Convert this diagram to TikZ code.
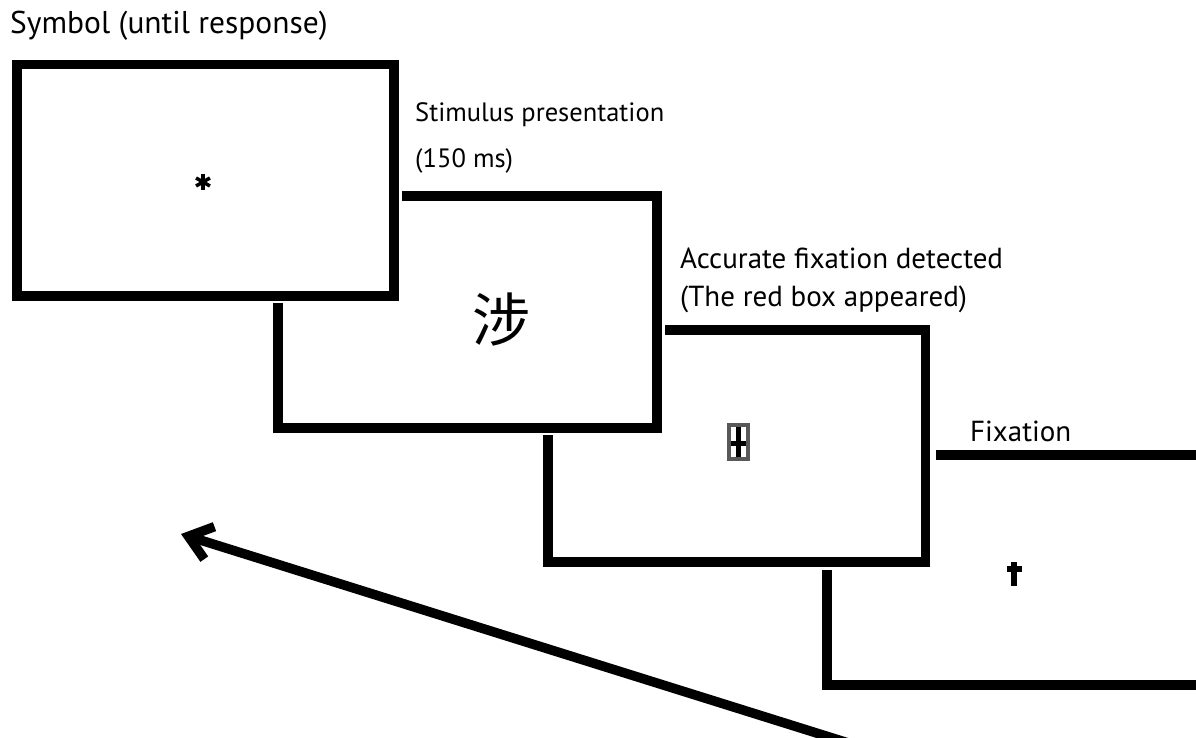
\documentclass[tikz,border=0pt]{standalone}
\usepackage{fontspec}
\setmainfont{PT Sans}
\newfontfamily\cjkfont{Noto Sans CJK SC}
\usetikzlibrary{arrows.meta}
\begin{document}
\begin{tikzpicture}[x=1pt,y=-1pt,
  frame/.style={line width=9.5pt,line join=miter,line cap=butt},
  lbl/.style={anchor=base west,inner sep=0pt},
  fa/.style={font=\fontsize{31.5}{36}\selectfont},
  fb/.style={font=\fontsize{26.5}{30}\selectfont},
  fc/.style={font=\fontsize{29}{34}\selectfont},
  bigarrow/.style={line width=9.5pt,-{Straight Barb[length=22pt,width=34pt,line width=9.5pt]}}]
\useasboundingbox (0,0) rectangle (1196,738);
\fill[white] (0,0) rectangle (1196,738);
% labels
\node[lbl,fa] (t1) at (10,34) {Symbol (until response)};
\node[lbl,fb] (t2) at (415,122) {Stimulus presentation};
\node[lbl,fb] (t3) at (415,168) {(150 ms)};
\node[lbl,fc] (t4) at (680,268) {Accurate fixation detected};
\node[lbl,fc] (t5) at (680,306) {(The red box appeared)};
\node[lbl,fc] (t6) at (970,441) {Fixation};
% screen 1
\draw[frame] (17,64.5) rectangle (394,296);
% screen 2
\draw[frame] (402,196) -- (657,196) -- (657,428) -- (278,428) -- (278,303);
% screen 3
\draw[frame] (665,330) -- (925.5,330) -- (925.5,562) -- (548,562) -- (548,435);
% screen 4
\draw[frame] (936,455) -- (1200,455);
\draw[frame] (1200,685) -- (827,685) -- (827,570);
% asterisk
\foreach \a in {90,30,-30}
  \draw[line width=3.5pt] (203,182) ++(\a:8) -- ++(\a+180:16);
% character
\node[inner sep=0pt,font=\cjkfont\fontsize{58}{58}\selectfont] (kanji) at (501,320) {涉};
% red box icon
\fill[black!65] (727,423) rectangle (750,461);
\fill[white] (731,427) rectangle (746,457);
\fill[black] (736,427) rectangle (741,457);
\fill[black] (731,441) rectangle (746,446);
% fixation cross
\fill[black] (1011,562) rectangle (1017,586);
\fill[black] (1007,566) rectangle (1022,572);
% arrow
\coordinate (astart) at (858,746);
\coordinate (aend) at (181,534);
\draw[bigarrow] (astart) -- (aend);
\end{tikzpicture}
\end{document}
